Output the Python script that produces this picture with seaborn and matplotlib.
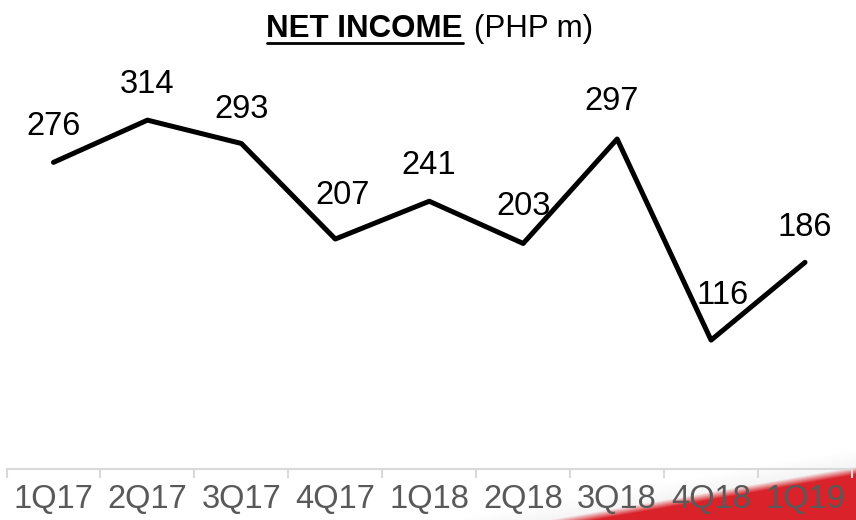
import numpy as np
import pandas as pd
import matplotlib
matplotlib.use("Agg")
import matplotlib.pyplot as plt
from matplotlib.lines import Line2D
from matplotlib.transforms import IdentityTransform
import seaborn as sns

quarters = ["1Q17", "2Q17", "3Q17", "4Q17", "1Q18", "2Q18", "3Q18", "4Q18", "1Q19"]
net_income = [276, 314, 293, 207, 241, 203, 297, 116, 186]

# label offsets in pixels (dx, dy above point)
label_offsets = [(0, 36), (0, 36), (0, 34), (7, 44), (-1, 36), (0, 37), (-6, 38), (11, 45), (0, 35)]

df = pd.DataFrame({"quarter": quarters, "net_income": net_income})

sns.set_theme(style="white")
plt.rcParams["font.family"] = ["Liberation Sans", "DejaVu Sans"]

W, H = 856, 520
fig = plt.figure(figsize=(W / 100, H / 100), dpi=100)

# red swoosh background in the bottom right corner, with a soft light glow above it
bg = fig.add_axes([0, 0, 1, 1], zorder=0)
yy, xx = np.mgrid[0:H, 0:W]
edge = 520 - (xx - 568) * 50 / 288
d = yy - edge
red_a = np.clip(d / 8 + 0.5, 0, 1)
glow = np.clip(1 + d / 22, 0, 1) * (1 - red_a) * 0.12
red = np.array([218, 34, 42]) / 255
grey = np.array([150, 150, 150]) / 255
a = red_a + glow
rgb = (red_a[..., None] * red + glow[..., None] * grey) / np.maximum(a, 1e-6)[..., None]
rgba = np.dstack([rgb, np.clip(a, 0, 1)])
bg.imshow(rgba, extent=[0, W, H, 0], aspect="auto", interpolation="bilinear")
bg.set_xlim(0, W)
bg.set_ylim(H, 0)
bg.axis("off")

ax = fig.add_axes([6.5 / W, 51 / H, 845.5 / W, 444.4 / H], zorder=1)
ax.patch.set_alpha(0)

sns.lineplot(data=df, x="quarter", y="net_income", color="black", linewidth=3.6,
             sort=False, ax=ax)

ax.set_xlim(-0.5, len(quarters) - 0.5)
ax.set_ylim(0, 400)

for i, (v, (dx, dy)) in enumerate(zip(net_income, label_offsets)):
    ax.annotate(str(v), (i, v), xytext=(dx * 0.72, dy * 0.72), textcoords="offset points",
                ha="center", va="center", fontsize=23.5, color="black")

for s in ["top", "right", "left"]:
    ax.spines[s].set_visible(False)
ax.spines["bottom"].set_color("#d9d9d9")
ax.spines["bottom"].set_linewidth(1.5)
ax.set_yticks([])

ax.set_xticks(np.arange(-0.5, len(quarters)), labels=[""] * (len(quarters) + 1))
ax.set_xticks(np.arange(len(quarters)), labels=quarters, minor=True)
ax.tick_params(axis="x", which="major", direction="out", length=6.5, width=1.5,
               color="#d9d9d9", bottom=True)
ax.tick_params(axis="x", which="minor", length=0, pad=11, labelsize=23.5,
               labelcolor="#595959", bottom=True)
ax.set_xlabel("")
ax.set_ylabel("")

# title: bold underlined part + regular part
t1 = fig.text(463 / W, 1 - 37 / H, "NET INCOME", ha="right", va="baseline",
              fontsize=22.5, fontweight="bold", color="black")
t2 = fig.text(474 / W, 1 - 37 / H, "(PHP m)", ha="left", va="baseline",
              fontsize=22.5, color="black")
fig.canvas.draw()
bb = t1.get_window_extent()
uy = bb.y0 + 1
fig.add_artist(Line2D([bb.x0, bb.x1], [uy, uy], transform=IdentityTransform(),
                      color="black", linewidth=2))

fig.savefig("out.png", dpi=100)
